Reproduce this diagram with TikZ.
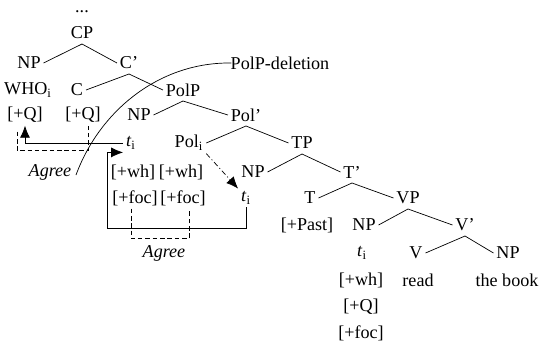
\documentclass[tikz,border=0pt]{standalone}
\usepackage{fontspec}
\setmainfont{Liberation Serif}
\usepackage{tikz}
\usetikzlibrary{arrows.meta,calc}
\tikzset{
  cat/.style  = {inner sep=1.5pt, font=\fontsize{10.3}{12}\selectfont},
  feat/.style = {cat},
  note/.style = {cat, font=\fontsize{10.3}{12}\selectfont\itshape},
  br/.style   = {thin},
  arr/.style  = {-{Latex[length=2.4mm,width=2mm]}, thin},
  agr/.style  = {thin, dash pattern=on 2.6pt off 1.6pt},
  mv/.style   = {-{Latex[length=2.4mm,width=2mm]}, thin, dash pattern=on 3pt off 1.5pt on 0.6pt off 1.5pt},
  del/.style  = {thin}
}
\newcommand{\treebranch}[3]{\draw[br] (#2.east) -- ($(#1.center)+(0,11)$) -- (#3.west);}
\newcommand{\idx}{\textsubscript{i}}

\begin{document}
\begin{tikzpicture}[x=0.02cm,y=-0.02cm]
  \useasboundingbox (0,0) rectangle (540,345);
  % ---- CP layer ----
  \node[cat] (dots) at (82,12) {...};
  \node[cat] (cp) at (82,33) {CP};
  \node[cat] (np1) at (29,63) {NP};
  \node[cat] (cb) at (129,63) {C'};
  \node[cat] (who) at (28,90) {WHO\idx};
  \node[cat] (c) at (77,90) {C};
  \node[cat] (polp) at (183,90) {PolP};
  \node[feat] (q1) at (25,115) {[+Q]};
  \node[feat] (q2) at (83,115) {[+Q]};
  % ---- PolP layer ----
  \node[cat] (np2) at (139,115) {NP};
  \node[cat] (polb) at (246,115) {Pol'};
  \node[cat] (t1) at (131,143) {\textit{t}\idx};
  \node[cat] (pol) at (189,143) {Pol\idx};
  \node[cat] (tp) at (302,143) {TP};
  \node[feat] (wh1) at (133,172) {[+wh]};
  \node[feat] (wh2) at (181,172) {[+wh]};
  \node[feat] (foc1) at (135,198) {[+foc]};
  \node[feat] (foc2) at (183,198) {[+foc]};
  % ---- TP layer ----
  \node[cat] (np3) at (253,172) {NP};
  \node[cat] (tb) at (352,172) {T'};
  \node[cat] (t2) at (246,198) {\textit{t}\idx};
  \node[cat] (t) at (310,198) {T};
  \node[cat] (vp) at (408,198) {VP};
  \node[feat] (past) at (307,225) {[+Past]};
  % ---- VP layer ----
  \node[cat] (np4) at (364,225) {NP};
  \node[cat] (vb) at (465,225) {V'};
  \node[cat] (t3) at (362,253) {\textit{t}\idx};
  \node[cat] (v) at (416,253) {V};
  \node[cat] (np5) at (508,253) {NP};
  \node[feat] (wh3) at (361,280) {[+wh]};
  \node[cat] (read) at (418,280) {read};
  \node[cat] (book) at (507,280) {the book};
  \node[feat] (q3) at (361,307) {[+Q]};
  \node[feat] (foc3) at (361,333) {[+foc]};
  % ---- labels ----
  \node[note] (agree1) at (50,172) {Agree};
  \node[note] (agree2) at (164,253) {Agree};
  \node[cat] (deletion) at (280,63) {PolP-deletion};
  \coordinate (delend) at (76,175);
  \coordinate (loop) at (107,228);

  % branches
  \treebranch{cp}{np1}{cb}
  \treebranch{cb}{c}{polp}
  \treebranch{polp}{np2}{polb}
  \treebranch{polb}{pol}{tp}
  \treebranch{tp}{np3}{tb}
  \treebranch{tb}{t}{vp}
  \treebranch{vp}{np4}{vb}
  \treebranch{vb}{v}{np5}

  % movement and agreement
  \draw[arr] (t1.west) -| (q1.south);
  \draw[agr] ($(q1.south)+(-8,6)$) |- ($(q2.south)+(5,25)$) -- ($(q2.south)+(5,0)$);
  \draw[arr] (t2.south) |- (loop) |- (t1.south west);
  \draw[agr] ($(foc1.south)+(-4,0)$) |- ($(foc2.south)+(6,30)$) -- ($(foc2.south)+(6,0)$);
  \draw[mv] (pol.south east) -- (t2.north west);
  \draw[del] ([xshift=2pt]deletion.west) .. controls (160,62) and (100,110) .. (delend);
\end{tikzpicture}
\end{document}
